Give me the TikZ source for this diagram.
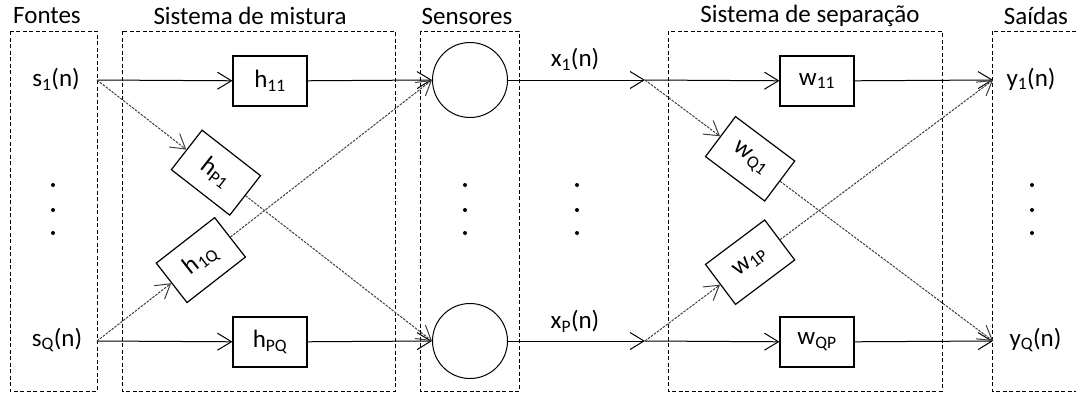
\documentclass[tikz,border=0pt]{standalone}
\usepackage{fontspec}
\setmainfont{Carlito}
\usetikzlibrary{arrows.meta}
\begin{document}
\begin{tikzpicture}[x=1pt,y=-1pt,
  every node/.style={font=\fontsize{25}{29}\selectfont},
  frame/.style={draw, line width=1pt, dash pattern=on 4pt off 2.5pt},
  gain/.style={draw, line width=1.2pt, minimum width=74pt, minimum height=50pt, inner sep=0pt, fill=white},
  sensor/.style={draw, circle, line width=1pt, minimum size=75pt, inner sep=0pt},
  tip/.style={-{Straight Barb[length=14pt,width=17pt,line width=1pt]}},
  sig/.style={line width=1pt, tip},
  cross/.style={line width=1pt, draw=black!75, dash pattern=on 2.5pt off 1.2pt, tip},
  dot/.style={circle, fill, inner sep=0pt, minimum size=4pt}
]
\useasboundingbox (0,0) rectangle (1076,394);

% dashed frames of the five stages
\draw[frame] (10,31) rectangle (97,391);
\draw[frame] (122,31) rectangle (395,391);
\draw[frame] (420,31) rectangle (519,391);
\draw[frame] (668,31) rectangle (942,391);
\draw[frame] (992,31) rectangle (1090,391);

% stage titles
\node (tFontes) at (47,16) {Fontes};
\node (tMix) at (250,16) {Sistema de mistura};
\node (tSens) at (467,16) {Sensores};
\node (tSep) at (810,16) {Sistema de separação};
\node (tOut) at (1036,16) {Saídas};

% sources
\node (s1) at (56,79) {s\textsubscript{1}(n)};
\node (sQ) at (57,340) {s\textsubscript{Q}(n)};
\coordinate (s1o) at (97,80);
\coordinate (sQo) at (97,341);

% sensors
\node[sensor] (c1) at (470,80) {};
\node[sensor] (cP) at (470,341) {};

% mixing filters
\node[gain] (h11) at (270,81) {h\textsubscript{11}};
\node[gain] (hPQ) at (270,342) {h\textsubscript{PQ}};
\path (s1o) -- (cP.west) node[gain, sloped, pos=0.355] (hP1) {h\textsubscript{P1}};
\path (sQo) -- (c1.west) node[gain, sloped, pos=0.31] (h1Q) {h\textsubscript{1Q}};

% mixing connections
\draw[sig] (s1o) -- (h11);
\draw[sig] (h11) -- (c1.west);
\draw[sig] (sQo) -- (hPQ);
\draw[sig] (hPQ) -- (cP.west);
\draw[cross] (s1o) -- (hP1);
\draw[cross] (hP1) -- (cP.west);
\draw[cross] (sQo) -- (h1Q);
\draw[cross] (h1Q) -- (c1.west);

% mixtures
\node (x1) at (575,59) {x\textsubscript{1}(n)};
\node (xP) at (575,321) {x\textsubscript{P}(n)};
\coordinate (b1) at (645,80);
\coordinate (bP) at (645,341);
\coordinate (o1) at (993,80);
\coordinate (oQ) at (993,341);

% separation filters
\node[gain] (w11) at (817,81) {w\textsubscript{11}};
\node[gain] (wQP) at (817,342) {w\textsubscript{QP}};
\path (b1) -- (oQ) node[gain, sloped, pos=0.302] (wQ1) {w\textsubscript{Q1}};
\path (bP) -- (o1) node[gain, sloped, pos=0.302] (w1P) {w\textsubscript{1P}};

% separation connections
\draw[sig] (c1.east) -- (b1);
\draw[sig] (b1) -- (w11);
\draw[sig] (w11) -- (o1);
\draw[sig] (cP.east) -- (bP);
\draw[sig] (bP) -- (wQP);
\draw[sig] (wQP) -- (oQ);
\draw[cross] (b1) -- (wQ1);
\draw[cross] (wQ1) -- (oQ);
\draw[cross] (bP) -- (w1P);
\draw[cross] (w1P) -- (o1);

% outputs
\node[anchor=west] (y1) at (1003,79) {y\textsubscript{1}(n)};
\node[anchor=west] (yQ) at (1006,340) {y\textsubscript{Q}(n)};

% ellipsis dots
\foreach \x/\n in {53/a,465/b,577/c,1032/d}{
  \node[dot] (\n1) at (\x,185) {};
  \node[dot] (\n2) at (\x,210) {};
  \node[dot] (\n3) at (\x,233) {};
}
\end{tikzpicture}
\end{document}
